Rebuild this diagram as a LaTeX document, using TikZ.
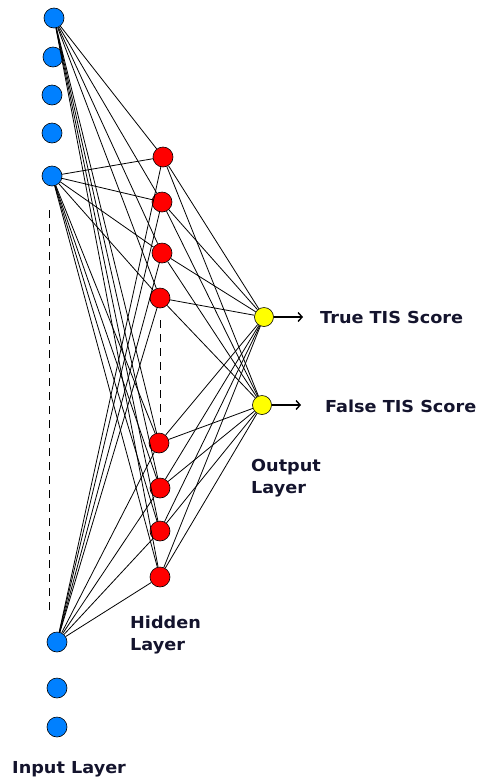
\documentclass[tikz,border=0pt]{standalone}
\usepackage{fontspec}
\setmainfont{DejaVu Sans}[FakeStretch=1.07]
\usetikzlibrary{arrows.meta}
\definecolor{inblue}{RGB}{0,128,255}
\definecolor{hidred}{RGB}{255,0,0}
\definecolor{outyel}{RGB}{255,255,0}
\definecolor{labtxt}{RGB}{20,20,45}
\tikzset{
  inneuron/.style={circle,draw=black,line width=0.6pt,fill=inblue,minimum size=20pt,inner sep=0pt},
  hidneuron/.style={circle,draw=black,line width=0.6pt,fill=hidred,minimum size=20pt,inner sep=0pt},
  outneuron/.style={circle,draw=black,line width=0.6pt,fill=outyel,minimum size=19pt,inner sep=0pt},
  conn/.style={draw=black,line width=0.8pt},
  gap/.style={draw=black,line width=0.8pt,dash pattern=on 8pt off 6pt},
  outarrow/.style={draw=black,line width=2.2pt,-{Straight Barb[length=4pt,width=9pt,line width=1.4pt]}},
  lab/.style={font=\fontsize{16.5}{21.5}\selectfont\bfseries,text=labtxt,inner sep=0pt,align=left},
}
\begin{document}
\begin{tikzpicture}[x=1pt,y=-1pt]
\useasboundingbox (0,0) rectangle (477,780);
\fill[white] (0,0) rectangle (477,780);
% input layer
\node[inneuron] (i1) at (54,18) {};
\node[inneuron] (i2) at (53,57) {};
\node[inneuron] (i3) at (52,95) {};
\node[inneuron] (i4) at (52,133) {};
\node[inneuron] (i5) at (52,176) {};
\node[inneuron] (i6) at (57,642) {};
\node[inneuron] (i7) at (57,688) {};
\node[inneuron] (i8) at (57,727) {};
% hidden layer
\node[hidneuron] (h1) at (163,157) {};
\node[hidneuron] (h2) at (162,202) {};
\node[hidneuron] (h3) at (162,253) {};
\node[hidneuron] (h4) at (160,298) {};
\node[hidneuron] (h5) at (159,443) {};
\node[hidneuron] (h6) at (160,488) {};
\node[hidneuron] (h7) at (160,531) {};
\node[hidneuron] (h8) at (160,577) {};
% output layer
\node[outneuron] (o1) at (264,317) {};
\node[outneuron] (o2) at (262,405) {};
% gaps
\coordinate (d1a) at (49,210);
\coordinate (d1b) at (49,610);
\draw[gap] (d1a) -- (d1b);
\coordinate (d2a) at (160,320);
\coordinate (d2b) at (160,425);
\draw[gap] (d2a) -- (d2b);
% connections input -> hidden
\foreach \i in {i1,i5,i6} {
  \foreach \h in {h1,h2,h3,h4,h5,h6,h7,h8} {
    \draw[conn] (\i) -- (\h);
  }
}
% connections hidden -> output
\foreach \h in {h1,h2,h3,h4,h5,h6,h7,h8} {
  \draw[conn] (\h) -- (o1);
  \draw[conn] (\h) -- (o2);
}
% output arrows
\coordinate (a1) at (303,317);
\coordinate (a2) at (301,405);
\draw[outarrow] (o1) -- (a1);
\draw[outarrow] (o2) -- (a2);
% labels
\node[lab,anchor=base west] (t1) at (320,323) {True TIS Score};
\node[lab,anchor=base west] (t2) at (325,412) {False TIS Score};
\node[lab,anchor=base west] (lo) at (251,493) {Output\\Layer};
\node[lab,anchor=base west] (lh) at (130,650) {Hidden\\Layer};
\node[lab,anchor=base west] (li) at (12,773) {Input Layer};
\end{tikzpicture}
\end{document}
